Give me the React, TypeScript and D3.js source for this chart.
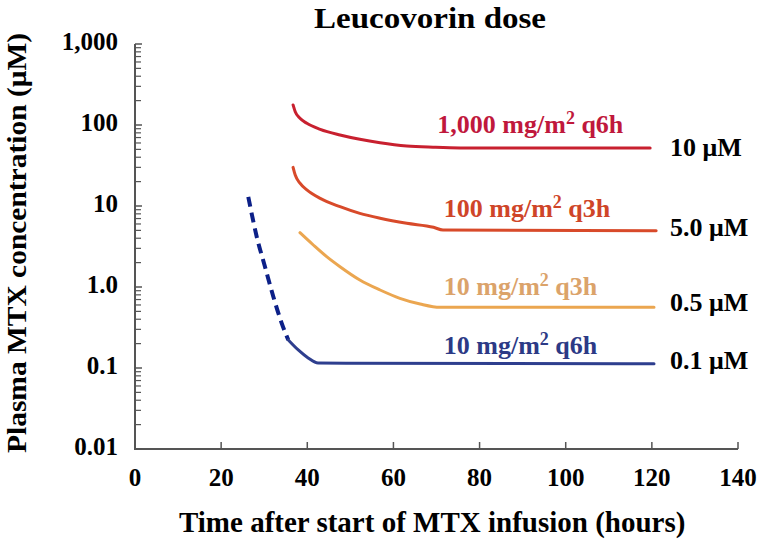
import React from "react";
import * as d3 from "d3";

const W = 761;
const H = 547;

const xTicks = [0, 20, 40, 60, 80, 100, 120, 140];
const yMajor = [0.01, 0.1, 1, 10, 100, 1000];
const yTickLabels = ["0.01", "0.1", "1.0", "10", "100", "1,000"];

const red1Hours = [36.7, 37.2, 38.3, 39.9, 43.0, 47.6, 52.2, 56.9, 63.1, 69.2, 75.5, 119.6];
const red1Conc = [177, 146, 121, 105, 88.5, 75.3, 66.6, 60.4, 55.1, 53.1, 52, 52];

const red2Hours = [36.7, 37.2, 38.3, 39.9, 43.0, 47.6, 52.2, 56.9, 63.1, 69.3, 71.5, 121];
const red2Conc = [30.0, 24.1, 19.1, 15.8, 12.4, 9.8, 8.1, 7.05, 6.11, 5.46, 5.05, 4.95];

const orangeHours = [38.3, 41.4, 44.5, 47.6, 52.2, 56.9, 61.5, 66.2, 70.8, 120.5];
const orangeConc = [4.68, 3.3, 2.37, 1.78, 1.22, 0.918, 0.725, 0.616, 0.561, 0.561];

const blueDashHours = [26.3, 28.26, 30.18, 32.12, 34.07, 35.59];
const blueDashConc = [13.0, 4.18, 1.78, 0.759, 0.356, 0.222];

const blueHours = [35.59, 37.9, 40.2, 42.5, 120.5];
const blueConc = [0.222, 0.167, 0.133, 0.115, 0.113];

const doseLabels = ["1,000 mg/m", "100 mg/m", "10 mg/m", "10 mg/m"];
const doseSuffix = ["q6h", "q3h", "q3h", "q6h"];
const levelLabels = ["10 \u03bcM", "5.0 \u03bcM", "0.5 \u03bcM", "0.1 \u03bcM"];
const levelValues = [52, 4.95, 0.561, 0.113];
const labelColors = ["#c0183c", "#cf4528", "#dba36a", "#2c3a86"];
const lineColors = ["#c8202f", "#d84a2a", "#eba650", "#2e3e8e"];

const titleText = "Leucovorin dose";
const xTitle = "Time after start of MTX infusion (hours)";
const yTitle = "Plasma MTX concentration (\u03bcM)";

const FONT = "'Liberation Serif', 'Times New Roman', serif";

export default function App() {
  const x = d3.scaleLinear().domain([0, 140]).range([135, 738]);
  const y = d3.scaleLog().domain([0.01, 1000]).range([449, 44]);

  const line = d3
    .line<[number, number]>()
    .x((d) => x(d[0]))
    .y((d) => y(d[1]))
    .curve(d3.curveMonotoneX);

  const zip = (a: number[], b: number[]) => a.map((v, i) => [v, b[i]] as [number, number]);

  const series = [
    { d: zip(red1Hours, red1Conc), c: lineColors[0] },
    { d: zip(red2Hours, red2Conc), c: lineColors[1] },
    { d: zip(orangeHours, orangeConc), c: lineColors[2] },
    { d: zip(blueHours, blueConc), c: lineColors[3] },
  ];

  const minor: number[] = [];
  yMajor.slice(0, -1).forEach((m) => {
    for (let k = 2; k <= 9; k++) minor.push(m * k);
  });

  const labelOffsets = [-15, -14, -12, -10];
  const levelOffsets = [8, 5, 4, 5];

  return (
    <svg
      width={W}
      height={H}
      style={{ position: "absolute", left: 0, top: 0, display: "block", background: "#fff" }}
      fontFamily={FONT}
      fontWeight="bold"
    >
      {/* title */}
      <text
        x={x(68.5)}
        y={28}
        textAnchor="middle"
        fontSize={29}
        textLength={232}
        lengthAdjust="spacingAndGlyphs"
        fill="#000"
      >
        {titleText}
      </text>

      {/* axes */}
      <path
        d={`M${x(0)},${y(1000)}V${y(0.01)}H${x(140)}`}
        fill="none"
        stroke="#555"
        strokeWidth={2}
      />
      {yMajor.map((v) => (
        <line key={"M" + v} x1={x(0)} x2={x(0) + 7} y1={y(v)} y2={y(v)} stroke="#555" strokeWidth={1.5} />
      ))}
      {minor.map((v) => (
        <line key={"m" + v} x1={x(0)} x2={x(0) + 6} y1={y(v)} y2={y(v)} stroke="#555" strokeWidth={1.2} />
      ))}
      {xTicks.map((t) => (
        <line key={"xt" + t} x1={x(t)} x2={x(t)} y1={y(0.01)} y2={y(0.01) - 7} stroke="#555" strokeWidth={1.5} />
      ))}

      {/* tick labels */}
      {yMajor.map((v, i) => (
        <text key={"yl" + v} x={118} y={y(v) + 6} textAnchor="end" fontSize={25} fill="#000">
          {yTickLabels[i]}
        </text>
      ))}
      {xTicks.map((t) => (
        <text key={"xl" + t} x={x(t)} y={486} textAnchor="middle" fontSize={25} fill="#000">
          {t}
        </text>
      ))}

      {/* axis titles */}
      <text x={x(69)} y={532} textAnchor="middle" fontSize={29} fill="#000">
        {xTitle}
      </text>
      <text
        transform={`translate(26, 453) rotate(-90)`}
        textAnchor="start"
        fontSize={28}
        textLength={420}
        lengthAdjust="spacingAndGlyphs"
        fill="#000"
      >
        {yTitle}
      </text>

      {/* curves */}
      <path
        d={line(zip(blueDashHours, blueDashConc)) || ""}
        fill="none"
        stroke="#0c2088"
        strokeWidth={4}
        strokeDasharray="10 6"
      />
      {series.map((s, i) => (
        <path key={"s" + i} d={line(s.d) || ""} fill="none" stroke={s.c} strokeWidth={3} strokeLinecap="round" />
      ))}

      {/* dose labels */}
      {doseLabels.map((l, i) => (
        <text
          key={"dl" + i}
          x={x(i === 0 ? 70.2 : 71.7)}
          y={y(levelValues[i]) + labelOffsets[i]}
          fontSize={26}
          fill={labelColors[i]}
        >
          {l}
          <tspan fontSize={18} dy={-9}>2</tspan>
          <tspan dy={9}> {doseSuffix[i]}</tspan>
        </text>
      ))}
      {levelLabels.map((l, i) => (
        <text
          key={"ll" + i}
          x={x(124.2)}
          y={y(levelValues[i]) + levelOffsets[i]}
          fontSize={26}
          fill="#000"
        >
          {l}
        </text>
      ))}
    </svg>
  );
}
